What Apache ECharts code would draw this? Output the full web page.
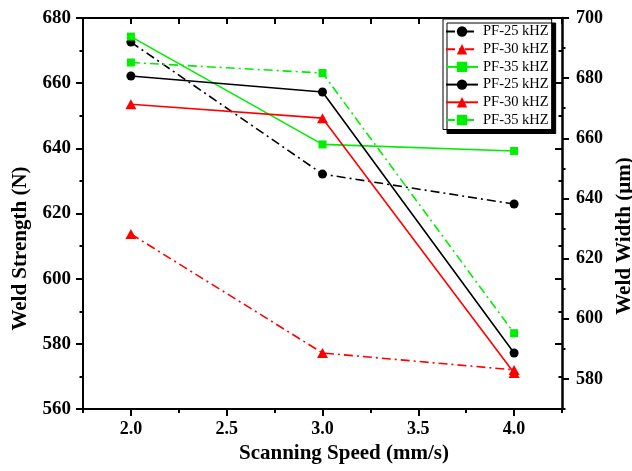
<!DOCTYPE html>
<html>
<head>
<meta charset="utf-8">
<script src="https://cdn.jsdelivr.net/npm/echarts@6/dist/echarts.min.js"></script>
<style>html,body{margin:0;padding:0;background:#fff;}#c{width:632px;height:471px;}</style>
</head>
<body>
<div id="c"></div>
<script>
// ---- data ----
const speeds = [2.0, 3.0, 4.0];
const xTickLabels = [2.0, 2.5, 3.0, 3.5, 4.0];
const leftTickLabels = [560, 580, 600, 620, 640, 660, 680];
const rightTickLabels = [580, 600, 620, 640, 660, 680, 700];
// Weld strength (N), left axis
const strengthPF25 = [672.6, 632.1, 622.9];
const strengthPF30 = [613.7, 577.2, 572.0];
const strengthPF35 = [674.3, 641.2, 639.2];
// Weld width (µm), right axis
const widthPF25 = [680.7, 675.4, 588.6];
const widthPF30 = [671.3, 666.7, 582.0];
const widthPF35 = [685.2, 681.7, 595.2];
const legendNames = ['PF-25 kHZ|a', 'PF-30 kHZ|a', 'PF-35 kHZ|a', 'PF-25 kHZ|b', 'PF-30 kHZ|b', 'PF-35 kHZ|b'];

const FONT = 'Liberation Serif';
const BLACK = '#000000', RED = '#ff0000', GREEN = '#00ee00';
const DASHDOT = [9, 4, 2, 4];

function pts(arr) { return speeds.map((s, i) => [s, arr[i]]); }
function mk(name, arr, yIdx, color, symbol, size, dashed) {
  return {
    name: name, type: 'line', xAxisIndex: 0, yAxisIndex: yIdx,
    data: pts(arr), symbol: symbol, symbolSize: size, showAllSymbol: true,
    itemStyle: { color: color },
    lineStyle: { color: color, width: 1.6, type: dashed ? DASHDOT : 'solid' },
    emphasis: { disabled: true }, animation: false
  };
}

const chart = echarts.init(document.getElementById('c'), null, { renderer: 'canvas' });
const axisLine = { show: true, lineStyle: { color: BLACK, width: 2 } };
chart.setOption({
  animation: false,
  backgroundColor: '#fff',
  grid: { left: 83, right: 70, top: 18, bottom: 62, containLabel: false, outerBoundsMode: 'none' },
  legend: {
    orient: 'vertical', left: 443, top: 19,
    padding: [5, 3, 2, 2], itemGap: 2.7, itemWidth: 32, itemHeight: 13,
    backgroundColor: '#fff', borderColor: BLACK, borderWidth: 1,
    shadowColor: BLACK, shadowBlur: 0, shadowOffsetX: 4, shadowOffsetY: 4,
    data: legendNames,
    formatter: n => n.split('|')[0],
    textStyle: { fontFamily: FONT, fontSize: 14.5, color: BLACK }
  },
  xAxis: [
    {
      type: 'value', min: 1.75, max: 4.25, position: 'bottom',
      axisLine: axisLine,
      axisTick: { show: true, customValues: xTickLabels, length: 7, lineStyle: { color: BLACK, width: 2 } },
      axisLabel: { customValues: xTickLabels, formatter: v => v.toFixed(1), margin: 11,
        fontFamily: FONT, fontWeight: 'bold', fontSize: 18, color: BLACK },
      splitLine: { show: false },
      name: 'Scanning Speed (mm/s)', nameLocation: 'middle', nameGap: 32,
      nameTextStyle: { fontFamily: FONT, fontWeight: 'bold', fontSize: 21, color: BLACK, padding: [0, 0, 0, 43] }
    },
    {
      type: 'value', min: 1.75, max: 4.25, interval: 0.25, position: 'bottom',
      axisLine: { show: false },
      axisTick: { show: true, length: 4, lineStyle: { color: BLACK, width: 2 } },
      axisLabel: { show: false }, splitLine: { show: false }
    },
    {
      type: 'value', min: 1.75, max: 4.25, interval: 0.25, position: 'top',
      axisLine: axisLine,
      axisTick: { show: true, inside: true, length: 6, lineStyle: { color: BLACK, width: 2 } },
      axisLabel: { show: false }, splitLine: { show: false }
    }
  ],
  yAxis: [
    {
      type: 'value', min: 560, max: 680, interval: 20, position: 'left',
      axisLine: axisLine,
      axisTick: { show: true, length: 7, lineStyle: { color: BLACK, width: 2 } },
      minorTick: { show: true, splitNumber: 2, length: 3.5, lineStyle: { color: BLACK, width: 2 } },
      axisLabel: { customValues: leftTickLabels, margin: 12, fontFamily: FONT, fontWeight: 'bold', fontSize: 19, color: BLACK },
      splitLine: { show: false }, minorSplitLine: { show: false },
      name: 'Weld Strength (N)', nameLocation: 'middle', nameGap: 52,
      nameTextStyle: { fontFamily: FONT, fontWeight: 'bold', fontSize: 21, color: BLACK, padding: [0, 70, 0, 0] }
    },
    {
      type: 'value', min: 570, max: 700, position: 'right',
      axisLine: { show: true, lineStyle: { color: BLACK, width: 2.5 } },
      axisTick: { show: true, customValues: rightTickLabels, length: 7, lineStyle: { color: BLACK, width: 2 } },
      axisLabel: { customValues: rightTickLabels, margin: 14, fontFamily: FONT, fontWeight: 'bold', fontSize: 18, color: BLACK },
      splitLine: { show: false },
      name: 'Weld Width (µm)', nameLocation: 'middle', nameGap: 43,
      nameTextStyle: { fontFamily: FONT, fontWeight: 'bold', fontSize: 21, color: BLACK, padding: [0, 45, 0, 0] }
    },
    {
      type: 'value', min: 570, max: 700, interval: 10, position: 'right',
      axisLine: { show: false },
      axisTick: { show: true, length: 3.5, lineStyle: { color: BLACK, width: 2 } },
      axisLabel: { show: false }, splitLine: { show: false }
    },
    {
      type: 'value', min: 560, max: 680, interval: 20, position: 'right',
      axisLine: { show: false },
      axisTick: { show: true, inside: true, length: 7, lineStyle: { color: BLACK, width: 2 } },
      minorTick: { show: true, splitNumber: 2, length: 3.5, lineStyle: { color: BLACK, width: 2 } },
      axisLabel: { show: false }, splitLine: { show: false }, minorSplitLine: { show: false }
    }
  ],
  series: [
    mk(legendNames[0], strengthPF25, 0, BLACK, 'circle', 9, true),
    mk(legendNames[1], strengthPF30, 0, RED, 'triangle', [11, 10], true),
    mk(legendNames[2], strengthPF35, 0, GREEN, 'rect', 8, false),
    mk(legendNames[3], widthPF25, 1, BLACK, 'circle', 9, false),
    mk(legendNames[4], widthPF30, 1, RED, 'triangle', [11, 10], false),
    mk(legendNames[5], widthPF35, 1, GREEN, 'rect', 8, true)
  ]
});
</script>
</body>
</html>
